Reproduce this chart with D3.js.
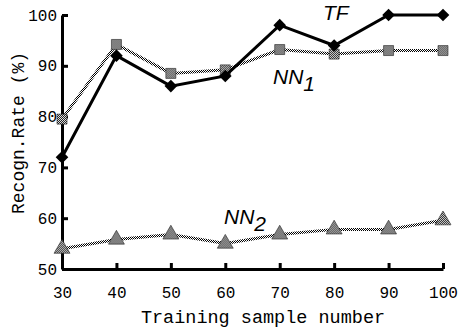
<!DOCTYPE html>
<html>
<head>
<meta charset="utf-8">
<script src="https://cdn.jsdelivr.net/npm/d3@7"></script>
<style>
  body { margin: 0; background: #fff; }
  svg { display: block; }
</style>
</head>
<body>
<svg id="chart" width="458" height="329"></svg>
<script>
// data
const sampleNumbers = [30, 40, 50, 60, 70, 80, 90, 100];
const tfRate = [72, 92, 86, 88, 98, 94, 100, 100];
const nn1Rate = [79.5, 94.2, 88.5, 89.2, 93.2, 92.3, 93, 93];
const nn2Rate = [54, 55.8, 56.8, 55, 56.8, 57.8, 57.8, 59.6];
const yTicks = [50, 60, 70, 80, 90, 100];

const margin = { top: 15, right: 15, bottom: 60, left: 62 };
const width = 458 - margin.left - margin.right;
const height = 329 - margin.top - margin.bottom;

const svg = d3.select("#chart");

// checker pattern used for the gray series
const defs = svg.append("defs");
const pat = defs.append("pattern")
  .attr("id", "checker")
  .attr("width", 2).attr("height", 2)
  .attr("patternUnits", "userSpaceOnUse");
pat.append("rect").attr("width", 2).attr("height", 2).attr("fill", "#fff");
pat.append("rect").attr("width", 1).attr("height", 1).attr("fill", "#000");
pat.append("rect").attr("x", 1).attr("y", 1).attr("width", 1).attr("height", 1).attr("fill", "#000");

const g = svg.append("g").attr("transform", `translate(${margin.left},${margin.top})`);

const x = d3.scaleLinear().domain([30, 100]).range([0, width]);
const y = d3.scaleLinear().domain([50, 100]).range([height, 0]);

const monoFont = "'Liberation Mono', 'DejaVu Sans Mono', monospace";

// axes, ticks pointing inward
const xAxis = g.append("g")
  .attr("transform", `translate(0,${height})`)
  .call(d3.axisBottom(x).tickValues(sampleNumbers).tickSizeInner(-6).tickSizeOuter(0).tickPadding(18));
const yAxis = g.append("g")
  .call(d3.axisLeft(y).tickValues(yTicks).tickSizeInner(-6).tickSizeOuter(0).tickPadding(5));

[xAxis, yAxis].forEach((a) => {
  a.select(".domain").attr("stroke", "#000").attr("stroke-width", 3);
  a.selectAll(".tick line").attr("stroke", "#000").attr("stroke-width", 3);
  a.selectAll(".tick text")
    .attr("fill", "#000")
    .style("font-family", monoFont)
    .style("font-size", "16px");
});

// axis titles
svg.append("text")
  .attr("x", 263)
  .attr("y", 323)
  .attr("text-anchor", "middle")
  .style("font-family", monoFont)
  .style("font-size", "18.5px")
  .text("Training sample number");

svg.append("text")
  .attr("transform", `translate(24,133) rotate(-90)`)
  .attr("text-anchor", "middle")
  .style("font-family", monoFont)
  .style("font-size", "18px")
  .text("Recogn.Rate (%)");

const line = d3.line()
  .x((d, i) => x(sampleNumbers[i]))
  .y((d) => y(d));

// NN2
g.append("path").datum(nn2Rate)
  .attr("d", line).attr("fill", "none")
  .attr("stroke", "url(#checker)").attr("stroke-width", 3);
g.selectAll(".nn2").data(nn2Rate).enter().append("path")
  .attr("class", "nn2")
  .attr("transform", (d, i) => `translate(${x(sampleNumbers[i])},${y(d)})`)
  .attr("d", d3.symbol(d3.symbolTriangle, 110)())
  .attr("fill", "url(#checker)").attr("stroke", "#222").attr("stroke-width", 0.6);

// NN1
g.append("path").datum(nn1Rate)
  .attr("d", line).attr("fill", "none")
  .attr("stroke", "url(#checker)").attr("stroke-width", 3);
g.selectAll(".nn1").data(nn1Rate).enter().append("path")
  .attr("class", "nn1")
  .attr("transform", (d, i) => `translate(${x(sampleNumbers[i])},${y(d)})`)
  .attr("d", d3.symbol(d3.symbolSquare, 100)())
  .attr("fill", "url(#checker)").attr("stroke", "#222").attr("stroke-width", 0.6);

// TF
g.append("path").datum(tfRate)
  .attr("d", line).attr("fill", "none")
  .attr("stroke", "#000").attr("stroke-width", 3);
g.selectAll(".tf").data(tfRate).enter().append("path")
  .attr("class", "tf")
  .attr("transform", (d, i) => `translate(${x(sampleNumbers[i])},${y(d)}) rotate(45)`)
  .attr("d", d3.symbol(d3.symbolSquare, 80)())
  .attr("fill", "#000");

// series labels
const labelFont = "'Liberation Sans', Arial, sans-serif";
function seriesLabel(px, py, main, sub) {
  const t = svg.append("text")
    .attr("x", px).attr("y", py)
    .style("font-family", labelFont)
    .style("font-style", "italic")
    .style("font-size", "21px");
  t.append("tspan").text(main);
  if (sub) t.append("tspan").attr("dy", 7).text(sub);
}
seriesLabel(323, 20, "TF");
seriesLabel(273, 84, "NN", "1");
seriesLabel(224, 224, "NN", "2");
</script>
</body>
</html>
